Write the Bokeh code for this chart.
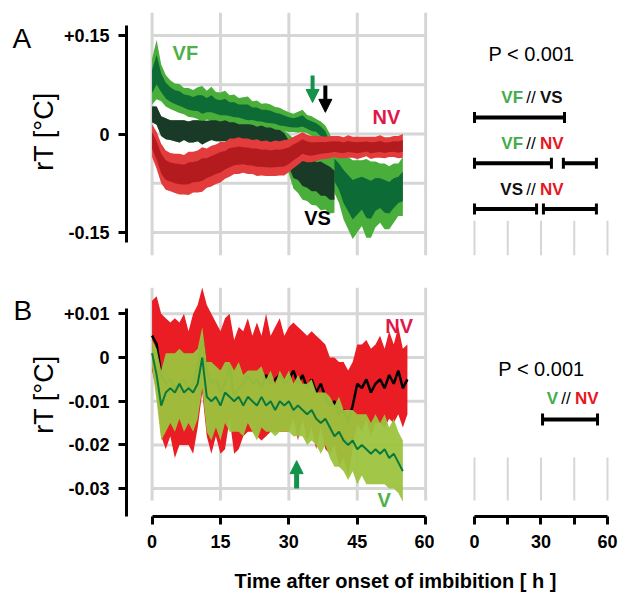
import numpy as np
from bokeh.plotting import figure
from bokeh.layouts import column, row
from bokeh.models import (ColumnDataSource, Range1d, FixedTicker, CustomJSTickFormatter,
                          Arrow, NormalHead)
from bokeh.core.properties import value
from bokeh.embed import file_html
from bokeh.resources import INLINE

FONT = "Liberation Sans"

# ---------------- data: panel A (hours after onset of imbibition) ----------------
hours_A = list(range(0, 56))
hours_VS = list(range(0, 41))

VF_mean = [0.080, 0.098, 0.078, 0.066, 0.060, 0.056, 0.054, 0.050, 0.048, 0.046,
           0.047, 0.045, 0.044, 0.046, 0.042, 0.040, 0.041, 0.038, 0.037, 0.035,
           0.034, 0.033, 0.031, 0.030, 0.028, 0.027, 0.026, 0.024, 0.022, 0.020,
           0.018, 0.017, 0.018, 0.020, 0.015, 0.012, 0.010, 0.004, -0.005, -0.025,
           -0.055, -0.065, -0.080, -0.090, -0.100, -0.095, -0.090, -0.098, -0.100, -0.092,
           -0.090, -0.095, -0.097, -0.090, -0.085, -0.080]
VF_spread = [0.035, 0.045, 0.028, 0.024, 0.022, 0.021, 0.022, 0.020, 0.022, 0.021,
             0.024, 0.028, 0.022, 0.026, 0.022, 0.023, 0.025, 0.021, 0.023, 0.020,
             0.022, 0.024, 0.019, 0.021, 0.018, 0.020, 0.019, 0.017, 0.018, 0.016,
             0.015, 0.014, 0.016, 0.017, 0.014, 0.015, 0.013, 0.015, 0.018, 0.025,
             0.035, 0.040, 0.050, 0.055, 0.060, 0.055, 0.050, 0.060, 0.058, 0.050,
             0.045, 0.050, 0.048, 0.045, 0.040, 0.045]

VS_mean = [0.030, 0.028, 0.012, 0.008, 0.006, 0.005, 0.004, 0.006, 0.003, 0.004,
           0.005, 0.002, 0.004, 0.006, 0.005, 0.004, 0.005, 0.003, 0.002, 0.001,
           0.000, 0.001, -0.001, -0.002, -0.001, -0.003, -0.004, -0.006, -0.008, -0.015,
           -0.030, -0.045, -0.050, -0.055, -0.060, -0.062, -0.065, -0.068, -0.070, -0.075,
           -0.078]
VS_spread_dark = [0.012, 0.014, 0.015, 0.016, 0.015, 0.016, 0.017, 0.015, 0.016, 0.017,
                  0.016, 0.018, 0.016, 0.015, 0.016, 0.015, 0.016, 0.015, 0.016, 0.014,
                  0.015, 0.014, 0.015, 0.013, 0.014, 0.013, 0.014, 0.013, 0.014, 0.016,
                  0.020, 0.022, 0.020, 0.024, 0.022, 0.025, 0.022, 0.026, 0.024, 0.025,
                  0.022]
VS_spread_light = [0.012, 0.014, 0.015, 0.016, 0.015, 0.016, 0.017, 0.015, 0.016, 0.017,
                   0.016, 0.018, 0.016, 0.015, 0.016, 0.015, 0.016, 0.015, 0.016, 0.014,
                   0.015, 0.014, 0.015, 0.013, 0.014, 0.013, 0.014, 0.013, 0.014, 0.020,
                   0.030, 0.038, 0.040, 0.045, 0.042, 0.046, 0.044, 0.048, 0.045, 0.046,
                   0.042]

NVA_mean = [-0.010, -0.025, -0.045, -0.055, -0.058, -0.060, -0.061, -0.062, -0.060, -0.058,
            -0.057, -0.054, -0.052, -0.049, -0.046, -0.043, -0.040, -0.036, -0.034, -0.033,
            -0.033, -0.034, -0.035, -0.036, -0.037, -0.037, -0.038, -0.037, -0.037, -0.036,
            -0.033, -0.028, -0.024, -0.019, -0.022, -0.023, -0.022, -0.021, -0.021, -0.020,
            -0.019, -0.020, -0.021, -0.019, -0.020, -0.021, -0.020, -0.019, -0.021, -0.020,
            -0.019, -0.021, -0.020, -0.019, -0.020, -0.018]
NVA_spread = [0.025, 0.028, 0.030, 0.030, 0.029, 0.030, 0.031, 0.030, 0.033, 0.031,
              0.032, 0.034, 0.030, 0.031, 0.030, 0.031, 0.028, 0.029, 0.027, 0.028,
              0.026, 0.027, 0.026, 0.028, 0.026, 0.027, 0.026, 0.027, 0.026, 0.027,
              0.025, 0.024, 0.023, 0.022, 0.021, 0.020, 0.019, 0.018, 0.017, 0.017,
              0.016, 0.017, 0.016, 0.017, 0.016, 0.017, 0.016, 0.015, 0.017, 0.016,
              0.017, 0.016, 0.015, 0.016, 0.017, 0.018]

arrow_A_hours = [35.2, 38.0]
arrow_A_from = [0.089, 0.074]
arrow_A_to = [0.048, 0.033]

# ---------------- data: panel B ----------------
hours_B_NV = list(range(0, 57))
hours_B_V = list(range(0, 56))

NVB_mean = [0.005, 0.003, -0.004, -0.006, -0.005, -0.007, -0.006, -0.005, -0.007, -0.006,
            -0.002, 0.004, -0.003, -0.006, -0.005, -0.008, -0.006, -0.002, -0.009, -0.007,
            -0.006, -0.004, -0.006, -0.005, -0.007, -0.004, -0.006, -0.005, -0.004, -0.006,
            -0.005, -0.003, -0.006, -0.004, -0.007, -0.005, -0.008, -0.006, -0.009, -0.011,
            -0.010, -0.013, -0.012, -0.015, -0.011, -0.006, -0.007, -0.005, -0.008, -0.006,
            -0.005, -0.007, -0.004, -0.006, -0.003, -0.007, -0.005]
NVB_spread = [0.008, 0.011, 0.014, 0.015, 0.013, 0.016, 0.014, 0.015, 0.013, 0.016,
              0.014, 0.012, 0.015, 0.016, 0.013, 0.014, 0.015, 0.012, 0.013, 0.014,
              0.012, 0.013, 0.011, 0.013, 0.012, 0.014, 0.011, 0.012, 0.013, 0.011,
              0.012, 0.011, 0.013, 0.010, 0.012, 0.011, 0.013, 0.010, 0.012, 0.011,
              0.010, 0.012, 0.011, 0.012, 0.010, 0.009, 0.010, 0.009, 0.010, 0.009,
              0.010, 0.009, 0.010, 0.009, 0.010, 0.009, 0.008]

VB_mean = [0.001, -0.004, -0.011, -0.008, -0.007, -0.008, -0.006, -0.008, -0.007, -0.008,
           -0.006, 0.000, -0.009, -0.010, -0.009, -0.011, -0.008, -0.009, -0.010, -0.009,
           -0.011, -0.009, -0.010, -0.011, -0.009, -0.011, -0.010, -0.012, -0.010, -0.011,
           -0.010, -0.012, -0.011, -0.012, -0.013, -0.012, -0.014, -0.015, -0.014, -0.016,
           -0.018, -0.017, -0.019, -0.020, -0.019, -0.021, -0.020, -0.021, -0.022, -0.021,
           -0.022, -0.021, -0.023, -0.022, -0.024, -0.026]
VB_spread = [0.003, 0.006, 0.008, 0.009, 0.008, 0.009, 0.008, 0.009, 0.008, 0.009,
             0.008, 0.007, 0.008, 0.009, 0.007, 0.008, 0.007, 0.008, 0.007, 0.008,
             0.007, 0.006, 0.007, 0.008, 0.007, 0.006, 0.007, 0.006, 0.007, 0.006,
             0.007, 0.006, 0.007, 0.006, 0.007, 0.007, 0.006, 0.007, 0.006, 0.007,
             0.007, 0.008, 0.007, 0.008, 0.007, 0.008, 0.007, 0.008, 0.007, 0.008,
             0.007, 0.008, 0.007, 0.008, 0.007, 0.007]

arrow_B_hour = 31.7
arrow_B_from = -0.0300
arrow_B_to = -0.0236

# ---------------- significance windows (right panels) ----------------
grid_hours = [0, 15, 30, 45, 60]
cmp_A_left = ["VF", "VF", "VS"]
cmp_A_right = ["VS", "NV", "NV"]
cmp_A_row = [0, 1, 2]
sig_A_row = [0, 1, 1, 2, 2]
sig_A_start = [0.0, 0.0, 40.1, 0.0, 31.1]
sig_A_end = [40.6, 34.7, 55.0, 28.0, 55.0]

cmp_B_left = ["V"]
cmp_B_right = ["NV"]
cmp_B_row = [0]
sig_B_row = [0]
sig_B_start = [30.7]
sig_B_end = [55.5]

p_text = "P < 0.001"
panel_letters = ["A", "B"]

yticks_A = [-0.15, 0.0, 0.15]
ygrid_A = [-0.15, -0.075, 0.0, 0.075, 0.15]
yticks_B = [-0.03, -0.02, -0.01, 0.0, 0.01]
xlabel = "Time after onset of imbibition [ h ]"
ylabel = "rT [°C]"

# ---------------- colours ----------------
GRID = "#d6d6d6"
VF_OUT, VF_IN = "#4aae3b", "#0d6b35"
VS_LIGHT, VS_DARK = "#4aae3b", "#183a26"
NV_OUT, NV_IN = "#e23c3c", "#b31b1f"
NVB_OUT, NVB_LINE = "#ea1c24", "#000000"
VB_OUT, VB_LINE = "#9cc33e", "#0a7a3c"
LBL_GREEN = "#4fb04a"
LBL_RED = "#e0194a"
TXT_GREEN = "#43ad4a"
TXT_RED = "#e8161e"
ARROW_GREEN = "#13924a"
NAME_COLOR = {"VF": TXT_GREEN, "V": TXT_GREEN, "VS": "#111111", "NV": TXT_RED}

X0, X1 = -5.61, 61.5
YA0, YA1 = -0.185, 0.185
YB0, YB1 = -0.03638, 0.01602
XR0, XR1 = -2.707, 63.16

TICKFMT = CustomJSTickFormatter(code="""
    if (Math.abs(tick) < 1e-9) { return "0"; }
    const s = tick.toFixed(2);
    return tick > 0 ? "+" + s : s;
""")


def style_axis(ax):
    ax.axis_line_width = 3
    ax.major_tick_line_width = 3
    ax.major_tick_out = 8
    ax.major_tick_in = 0
    ax.minor_tick_line_color = None
    ax.major_label_text_font = FONT
    ax.major_label_text_font_style = "bold"
    ax.major_label_text_font_size = "18px"
    ax.major_label_text_color = "black"
    ax.axis_line_color = "black"
    ax.major_tick_line_color = "black"


def style_y(ax, ticks, bounds):
    style_axis(ax)
    ax.ticker = FixedTicker(ticks=ticks)
    ax.formatter = TICKFMT
    ax.bounds = bounds
    ax.major_label_standoff = 9


def bands(p, t, mean, spread_out, spread_in, c_out, c_in):
    m = np.array(mean)
    so = np.array(spread_out)
    si = np.array(spread_in)
    src = ColumnDataSource(dict(t=t, lo=m - so, hi=m + so, lo2=m - si, hi2=m + si))
    p.varea(x="t", y1="lo", y2="hi", source=src, fill_color=c_out)
    p.varea(x="t", y1="lo2", y2="hi2", source=src, fill_color=c_in)


def plain_fig(width, height, xr, yr, left=0, right=0, top=0, bottom=0, xaxis=False):
    p = figure(width=width, height=height, x_range=xr, y_range=yr,
               output_backend="svg", toolbar_location=None,
               min_border_left=left, min_border_right=right,
               min_border_top=top, min_border_bottom=bottom,
               x_axis_location=("below" if xaxis else None),
               y_axis_location=None)
    p.outline_line_color = None
    p.grid.visible = False
    return p


# ================= left strip: panel letters and y titles =================
pL = plain_fig(60, 557, Range1d(0, 60), Range1d(0, 557))
pL.text(x=[12, 13], y=[557 - 38, 557 - 310], text=panel_letters, text_align="left",
        text_baseline="alphabetic", text_font=value(FONT), text_font_size="28px",
        text_color="black")
pL.text(x=[43, 43], y=[557 - 131, 557 - 394], text=[ylabel, ylabel], angle=np.pi / 2,
        text_align="center", text_baseline="middle", text_font=value(FONT),
        text_font_size="27px", text_color="black")

# ================= Panel A main =================
pA = figure(width=374, height=280, x_range=Range1d(X0, X1), y_range=Range1d(YA0, YA1),
            output_backend="svg", toolbar_location=None,
            min_border_left=61, min_border_right=2, min_border_top=12, min_border_bottom=25,
            x_axis_location=None, y_axis_location="left")
pA.outline_line_color = None
pA.grid.visible = False
style_y(pA.yaxis[0], yticks_A, (-0.165, 0.165))

pA.segment(x0=grid_hours, x1=grid_hours, y0=[YA0] * 5, y1=[YA1] * 5,
           line_color=GRID, line_width=3)
pA.segment(x0=[0] * 5, x1=[60] * 5, y0=ygrid_A, y1=ygrid_A, line_color=GRID, line_width=3)

bands(pA, hours_A, VF_mean, VF_spread, list(np.array(VF_spread) * 0.5), VF_OUT, VF_IN)
bands(pA, hours_VS, VS_mean, VS_spread_light, VS_spread_dark, VS_LIGHT, VS_DARK)
bands(pA, hours_A, NVA_mean, NVA_spread, list(np.array(NVA_spread) * 0.5), NV_OUT, NV_IN)

pA.text(x=[7.3], y=[0.124], text=["VF"], text_align="center", text_baseline="middle",
        text_font=value(FONT), text_font_style="bold", text_font_size="20px", text_color=LBL_GREEN)
pA.text(x=[51.4], y=[0.0266], text=["NV"], text_align="center", text_baseline="middle",
        text_font=value(FONT), text_font_style="bold", text_font_size="20px", text_color=LBL_RED)
pA.text(x=[36.3], y=[-0.1286], text=["VS"], text_align="center", text_baseline="middle",
        text_font=value(FONT), text_font_style="bold", text_font_size="20px", text_color="black")

for h, y0, y1, c in zip(arrow_A_hours, arrow_A_from, arrow_A_to, [ARROW_GREEN, "black"]):
    pA.add_layout(Arrow(end=NormalHead(size=13, fill_color=c, line_color=c),
                        x_start=h, y_start=y0, x_end=h, y_end=y1,
                        line_color=c, line_width=4))

# ================= Panel A right (significance) =================
pAr = plain_fig(184, 280, Range1d(XR0, XR1), Range1d(3.02, -2.3), 34, 4, 12, 2)
pAr.segment(x0=grid_hours, x1=grid_hours, y0=[2.26] * 5, y1=[3.02] * 5,
            line_color=GRID, line_width=2)


def sig_panel(p, p_row, cmp_left, cmp_right, cmp_row, anchor, rows, starts, ends, p_x):
    p.text(x=[p_x], y=[p_row], text=[p_text], text_align="center", text_baseline="middle",
           text_font=value(FONT), text_font_size="20px", text_color="black")
    lab_y = [r - 0.43 for r in cmp_row]
    p.text(x=[anchor] * len(cmp_row), y=lab_y, text=["//"] * len(cmp_row),
           text_align="center", text_baseline="middle", text_font=value(FONT),
           text_font_size="17px", text_color="black")
    p.text(x=[anchor] * len(cmp_row), y=lab_y, text=cmp_left, x_offset=-8,
           text_align="right", text_baseline="middle", text_font=value(FONT),
           text_font_style="bold", text_font_size="17px",
           text_color=[NAME_COLOR[n] for n in cmp_left])
    p.text(x=[anchor] * len(cmp_row), y=lab_y, text=cmp_right, x_offset=9,
           text_align="left", text_baseline="middle", text_font=value(FONT),
           text_font_style="bold", text_font_size="17px",
           text_color=[NAME_COLOR[n] for n in cmp_right])
    p.segment(x0=starts, x1=ends, y0=rows, y1=rows, line_color="black", line_width=4)
    cx = list(starts) + list(ends)
    cr = list(rows) + list(rows)
    p.segment(x0=cx, x1=cx, y0=[r - 0.12 for r in cr], y1=[r + 0.12 for r in cr],
              line_color="black", line_width=3)


sig_panel(pAr, -1.4, cmp_A_left, cmp_A_right, cmp_A_row, 25.5,
          sig_A_row, sig_A_start, sig_A_end, 25.7)

# ================= Panel B main =================
pB = figure(width=374, height=277, x_range=Range1d(X0, X1), y_range=Range1d(YB0, YB1),
            output_backend="svg", toolbar_location=None,
            min_border_left=61, min_border_right=2, min_border_top=7, min_border_bottom=41,
            x_axis_location="below", y_axis_location="left")
pB.outline_line_color = None
pB.grid.visible = False
style_y(pB.yaxis[0], yticks_B, (YB0, 0.0112))
xa = pB.xaxis[0]
style_axis(xa)
xa.ticker = FixedTicker(ticks=grid_hours)
xa.bounds = (0, 60)
xa.major_label_standoff = 10

pB.segment(x0=grid_hours, x1=grid_hours, y0=[-0.0327] * 5, y1=[YB1] * 5,
           line_color=GRID, line_width=3)
pB.segment(x0=[0] * 5, x1=[60] * 5, y0=yticks_B, y1=yticks_B, line_color=GRID, line_width=3)

nvb = np.array(NVB_mean)
nvs = np.array(NVB_spread)
pB.varea(x=hours_B_NV, y1=nvb - nvs, y2=nvb + nvs, fill_color=NVB_OUT)
pB.line(x=hours_B_NV, y=NVB_mean, line_color=NVB_LINE, line_width=2.5)
vb = np.array(VB_mean)
vs = np.array(VB_spread)
pB.varea(x=hours_B_V, y1=vb - vs, y2=vb + vs, fill_color=VB_OUT, fill_alpha=0.95)
pB.line(x=hours_B_V, y=VB_mean, line_color=VB_LINE, line_width=2)

pB.text(x=[54.2], y=[0.0073], text=["NV"], text_align="center", text_baseline="middle",
        text_font=value(FONT), text_font_style="bold", text_font_size="20px", text_color=LBL_RED)
pB.text(x=[50.9], y=[-0.0327], text=["V"], text_align="center", text_baseline="middle",
        text_font=value(FONT), text_font_style="bold", text_font_size="20px", text_color=LBL_GREEN)

pB.add_layout(Arrow(end=NormalHead(size=13, fill_color=ARROW_GREEN, line_color=ARROW_GREEN),
                    x_start=arrow_B_hour, y_start=arrow_B_from,
                    x_end=arrow_B_hour, y_end=arrow_B_to,
                    line_color=ARROW_GREEN, line_width=5))

# ================= Panel B right =================
pBr = plain_fig(184, 277, Range1d(XR0, XR1), Range1d(1.94, -2.64), 34, 4, 7, 41, xaxis=True)
xb = pBr.xaxis[0]
style_axis(xb)
xb.ticker = FixedTicker(ticks=grid_hours)
xb.bounds = (0, 60)
xb.major_label_standoff = 10
xb.formatter = CustomJSTickFormatter(code="""
    return (Math.round(tick) % 30 == 0) ? tick.toFixed(0) : "";
""")
pBr.segment(x0=grid_hours, x1=grid_hours, y0=[0.76] * 5, y1=[1.62] * 5,
            line_color=GRID, line_width=2)
sig_panel(pBr, -1.02, cmp_B_left, cmp_B_right, cmp_B_row, 41.3,
          sig_B_row, sig_B_start, sig_B_end, 30.2)

# ================= shared x-axis title =================
pT = plain_fig(618, 36, Range1d(0, 618), Range1d(0, 36))
pT.text(x=[395], y=[13], text=[xlabel], text_align="center", text_baseline="alphabetic",
        text_font=value(FONT), text_font_style="bold", text_font_size="20px", text_color="black")

layout = column(row(pL, column(row(pA, pAr), row(pB, pBr))), pT)

with open("out.html", "w") as f:
    f.write(file_html(layout, INLINE))
